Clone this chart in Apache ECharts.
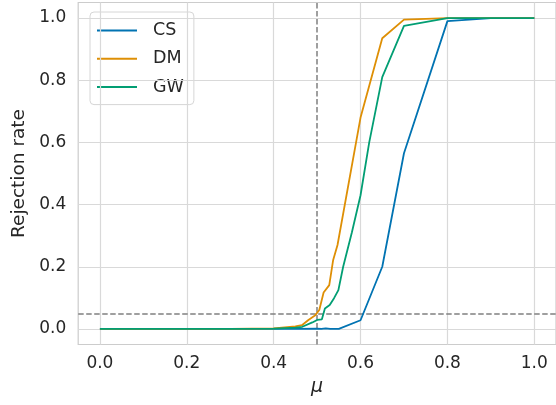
<!DOCTYPE html>
<html>
<head>
<meta charset="utf-8">
<script src="https://cdn.jsdelivr.net/npm/echarts@6/dist/echarts.min.js"></script>
<style>
html,body{margin:0;padding:0;background:#fff;}
#chart{width:556px;height:405px;}
</style>
</head>
<body>
<div id="chart"></div>
<script>
// Data
const csX = [0, 0.1, 0.2, 0.3, 0.4, 0.45, 0.5, 0.51, 0.52, 0.53, 0.55, 0.6, 0.65, 0.7, 0.8, 0.9, 1.0];
const csY = [0, 0, 0, 0, 0, 0, 0.001, 0.0, 0.002, 0.0, 0.0, 0.028, 0.2, 0.565, 0.99, 1.0, 1.0];

const dmX = [0, 0.1, 0.2, 0.3, 0.4, 0.45, 0.465, 0.48, 0.495, 0.505, 0.515, 0.528, 0.537, 0.547, 0.6, 0.65, 0.7, 0.8, 0.9, 1.0];
const dmY = [0, 0, 0, 0, 0.002, 0.008, 0.012, 0.029, 0.043, 0.061, 0.117, 0.141, 0.222, 0.27, 0.68, 0.935, 0.995, 1.0, 1.0, 1.0];

const gwX = [0, 0.1, 0.2, 0.3, 0.4, 0.45, 0.466, 0.489, 0.5, 0.511, 0.518, 0.529, 0.539, 0.549, 0.56, 0.58, 0.6, 0.62, 0.65, 0.7, 0.8, 0.9, 1.0];
const gwY = [0, 0, 0, 0, 0.001, 0.004, 0.007, 0.021, 0.029, 0.031, 0.066, 0.077, 0.099, 0.125, 0.2, 0.31, 0.43, 0.6, 0.81, 0.975, 1.0, 1.0, 1.0];

const xTicks = [0, 0.2, 0.4, 0.6, 0.8, 1.0];
const yTicks = [0, 0.2, 0.4, 0.6, 0.8, 1.0];
const alphaLevel = 0.05;
const muNull = 0.5;

const seriesNames = ['CS', 'DM', 'GW'];
const colors = ['#0173b2', '#de8f05', '#029e73'];

const pair = (xs, ys) => xs.map((x, i) => [x, ys[i]]);

const textColor = '#262626';
const font = 'DejaVu Sans';

const chart = echarts.init(document.getElementById('chart'), null, {renderer: 'canvas'});

const lineSeries = [pair(csX, csY), pair(dmX, dmY), pair(gwX, gwY)].map((d, i) => ({
  name: seriesNames[i],
  type: 'line',
  data: d,
  symbol: 'none',
  showSymbol: false,
  z: 5,
  lineStyle: {color: colors[i], width: 1.8},
  itemStyle: {color: colors[i]},
  animation: false
}));

chart.setOption({
  animation: false,
  backgroundColor: '#ffffff',
  grid: {
    left: 78.2, right: -1.8, top: 2.5, bottom: 60.5,
    show: true, borderColor: '#cccccc', borderWidth: 1.2, backgroundColor: 'transparent'
  },
  legend: {
    data: seriesNames,
    orient: 'vertical',
    left: 90, top: 12,
    icon: 'rect',
    itemWidth: 40, itemHeight: 2, itemGap: 7.3,
    padding: [8, 10, 7, 7],
    backgroundColor: 'rgba(255,255,255,0.85)',
    borderColor: '#d6d6d6', borderWidth: 1, borderRadius: 4,
    textStyle: {fontFamily: font, fontSize: 17.5, lineHeight: 21, color: textColor, padding: [0, 0, 0, 11]}
  },
  xAxis: {
    type: 'value', min: -0.05, max: 1.05,
    name: 'μ', nameLocation: 'middle', nameGap: 30,
    nameTextStyle: {fontFamily: font, fontSize: 19, fontStyle: 'italic', color: textColor},
    axisLine: {show: false}, axisTick: {show: false, customValues: xTicks},
    splitLine: {show: false},
    axisLabel: {customValues: xTicks, margin: 11, fontFamily: font, fontSize: 17, color: textColor,
      formatter: v => v.toFixed(1)}
  },
  yAxis: {
    type: 'value', min: -0.05, max: 1.05,
    name: 'Rejection rate', nameLocation: 'middle', nameGap: 50,
    nameTextStyle: {fontFamily: font, fontSize: 18.5, color: textColor},
    axisLine: {show: false}, axisTick: {show: false, customValues: yTicks},
    splitLine: {show: false},
    axisLabel: {customValues: yTicks, margin: 12, fontFamily: font, fontSize: 17, color: textColor,
      formatter: v => v.toFixed(1)}
  },
  series: [
    {
      name: '_grid', type: 'line', data: [[0, 0]], symbol: 'none', z: 1,
      lineStyle: {opacity: 0}, silent: true, legendHoverLink: false,
      markLine: {
        silent: true, symbol: ['none', 'none'], label: {show: false}, animation: false,
        lineStyle: {type: 'solid', color: '#d9d9d9', width: 1.2},
        data: xTicks.map(v => ({xAxis: v})).concat(yTicks.map(v => ({yAxis: v})))
      }
    },
    {
      name: '_ref', type: 'line', data: [[0, 0]], symbol: 'none', z: 2,
      lineStyle: {opacity: 0}, silent: true, legendHoverLink: false,
      markLine: {
        silent: true, symbol: ['none', 'none'], label: {show: false}, animation: false,
        lineStyle: {type: [5.5, 2.5], color: '#808080', width: 1.5},
        data: [{xAxis: muNull}, {yAxis: alphaLevel}]
      }
    }
  ].concat(lineSeries)
});
</script>
</body>
</html>
